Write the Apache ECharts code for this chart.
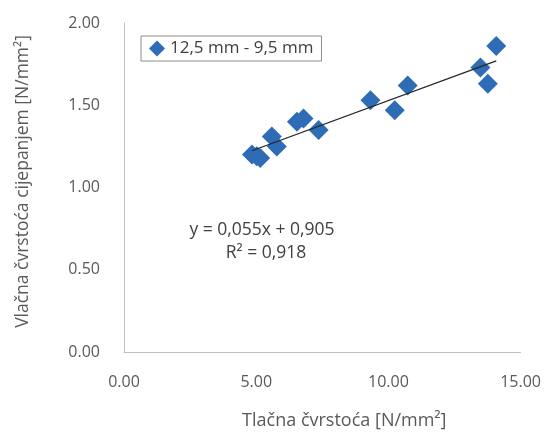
<!DOCTYPE html>
<html>
<head>
<meta charset="utf-8">
<script src="https://cdn.jsdelivr.net/npm/echarts@6/dist/echarts.min.js"></script>
<style>html,body{margin:0;padding:0;background:#fff}#c{width:544px;height:435px}</style>
</head>
<body>
<div id="c"></div>
<script>
var seriesName = '12,5 mm - 9,5 mm';
var xValues = [4.84, 5.02, 5.15, 5.59, 5.78, 6.54, 6.79, 7.36, 9.32, 10.24, 10.73, 13.48, 13.76, 14.08];
var yValues = [1.20, 1.19, 1.18, 1.31, 1.25, 1.40, 1.42, 1.35, 1.53, 1.47, 1.62, 1.73, 1.63, 1.86];
var xTicks = [0, 5, 10, 15];
var yTicks = [0, 0.5, 1, 1.5, 2];
var equationText = 'y = 0,055x + 0,905';
var r2Text = 'R\u00b2 = 0,918';
var xTitle = 'Tlačna čvrstoća [N/mm\u00b2]';
var yTitle = 'Vlačna čvrstoća cijepanjem [N/mm\u00b2]';

var pts = xValues.map(function (x, i) { return [x, yValues[i]]; });
// least squares trend line through the plotted points
var n = xValues.length, sx = 0, sy = 0, sxx = 0, sxy = 0;
for (var i = 0; i < n; i++) { sx += xValues[i]; sy += yValues[i]; sxx += xValues[i]*xValues[i]; sxy += xValues[i]*yValues[i]; }
var slope = (n*sxy - sx*sy) / (n*sxx - sx*sx);
var icpt = (sy - slope*sx) / n;
var xmin = Math.min.apply(null, xValues), xmax = Math.max.apply(null, xValues);
var trend = [[xmin, icpt + slope*xmin], [xmax, icpt + slope*xmax]];

var font = 'Open Sans';
var chart = echarts.init(document.getElementById('c'), null, {renderer: 'canvas'});
chart.setOption({
  animation: false,
  backgroundColor: '#fff',
  textStyle: {fontFamily: font},
  grid: {left: 124, right: 23, top: 23, bottom: 77},
  legend: {
    data: [{name: seriesName, icon: 'diamond'}],
    left: 141, top: 36,
    padding: [4, 8, 4, 8],
    borderColor: '#8c8c8c', borderWidth: 1,
    backgroundColor: '#fff',
    itemWidth: 16, itemHeight: 16, itemGap: 4,
    textStyle: {fontFamily: font, fontSize: 17, color: '#404040'}
  },
  xAxis: {
    type: 'value', min: 0, max: 15, interval: 5,
    axisLine: {show: true, lineStyle: {color: '#bfbfbf', width: 1}},
    axisTick: {show: false},
    splitLine: {show: false},
    axisLabel: {margin: 22, fontSize: 16, color: '#595959', fontFamily: font,
      formatter: function (v) { return v.toFixed(2); }},
    name: xTitle, nameLocation: 'middle', nameGap: 60,
    nameTextStyle: {fontSize: 18, color: '#595959', fontFamily: font, padding: [0, 0, 0, 44]}
  },
  yAxis: {
    type: 'value', min: 0, max: 2, interval: 0.5,
    axisLine: {show: true, lineStyle: {color: '#bfbfbf', width: 1}},
    axisTick: {show: false},
    splitLine: {show: false},
    axisLabel: {margin: 24, fontSize: 16, color: '#595959', fontFamily: font,
      padding: [0, 0, 8, 0],
      formatter: function (v) { return v.toFixed(2); }},
    name: yTitle, nameLocation: 'middle', nameGap: 92, nameRotate: 90,
    nameTextStyle: {fontSize: 17.5, color: '#595959', fontFamily: font, padding: [0, 0, 0, 12]}
  },
  series: [
    {
      name: seriesName, type: 'scatter', symbol: 'diamond', symbolSize: 20,
      itemStyle: {color: '#2f6cb6', opacity: 1},
      data: pts, z: 2
    },
    {
      name: 'trend', type: 'line', data: trend, symbol: 'none',
      lineStyle: {color: '#262626', width: 1.3}, z: 3, silent: true
    }
  ],
  graphic: [
    {type: 'text', x: 262, y: 230, style: {text: equationText, fontSize: 17.5, fill: '#404040', fontFamily: font, textAlign: 'center', textVerticalAlign: 'middle'}},
    {type: 'text', x: 266, y: 253, style: {text: r2Text, fontSize: 17.5, fill: '#404040', fontFamily: font, textAlign: 'center', textVerticalAlign: 'middle'}}
  ]
});
</script>
</body>
</html>
